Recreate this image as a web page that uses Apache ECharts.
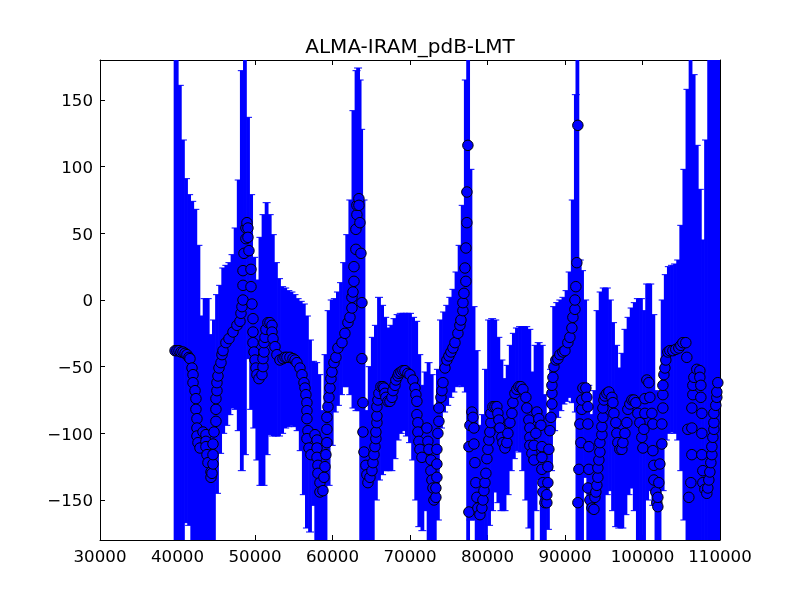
<!DOCTYPE html>
<html>
<head>
<meta charset="utf-8">
<title>ALMA-IRAM_pdB-LMT</title>
<script src="https://cdn.jsdelivr.net/npm/echarts@6/dist/echarts.min.js"></script>
<style>
html, body { margin: 0; padding: 0; background: #fff; }
#chart { width: 800px; height: 600px; }
</style>
</head>
<body>
<div id="chart"></div>
<script>
var chartTitle = 'ALMA-IRAM_pdB-LMT';
var yTicks = [-150, -100, -50, 0, 50, 100, 150];

// error bars: frequency, top end, bottom end (ends past +-180 are cut by the axes)
var barFreq = [39750,39900,40300,40700,41100,41500,41900,42300,42700,43100,43500,43900,44300,44700,45100,45500,45900,46300,46700,47100,47500,47900,48300,48700,49100,49500,49900,50300,50700,51100,51500,51900,52300,52700,53100,53500,53900,54300,54700,55100,55500,55900,56300,56700,57100,57500,57900,58300,58700,59100,59500,59900,60300,60700,61100,61500,61900,62300,62700,63100,63300,63500,63700,64000,64400,64800,65200,65600,66000,66400,66800,67200,67600,68000,68400,68800,69200,69600,70000,70400,70800,71200,71600,72000,72400,72800,73200,73600,74000,74400,74800,75200,75600,76000,76400,76800,77200,77500,77800,78200,78600,79000,79400,79800,80200,80600,81000,81400,81800,82200,82600,83000,83400,83800,84200,84600,85000,85400,85800,86200,86600,87000,87400,87800,88200,88600,89000,89400,89800,90200,90600,91000,91400,91600,91900,92200,92600,93000,93400,93800,94200,94600,95000,95400,95800,96200,96600,97000,97400,97800,98200,98600,99000,99400,99800,100200,100600,101000,101400,101800,102200,102600,103000,103400,103800,104200,104600,105000,105400,105800,106200,106600,107000,107400,107800,108200,108600,109000,109400,109800];
var barHigh = [250,250,161,120,91,79,74,68,41,-12,1,1,-26,-15,4,11,24,26,28,34,54,90,172,250,137,79,32,15,47,64,73,64,49,28,16,10,9,7,6,4,1,-1,-3,-12,-30,-46,-47,-56,-83,-41,-8,0,1,6,13,28,49,75,142,172,174,165,128,75,-83,-50,-28,-19,2,-4,-13,-21,-19,-14,-11,-10,-10,-10,-10,-13,-16,-41,-64,-54,-47,-56,-79,-52,-15,-9,-4,2,8,21,41,71,165,250,98,-5,-38,-94,-86,-52,-15,-14,-15,-28,-45,-59,-49,-34,-25,-21,-20,-20,-20,-22,-54,-34,-32,-34,-71,-90,-52,-5,-2,0,2,7,21,75,154,250,30,22,0,-64,-86,-68,-8,6,9,9,0,-17,-34,-51,-40,-22,-13,-6,-2,1,1,-8,12,12,-11,-68,-71,0,19,25,26,27,30,56,98,158,250,169,116,83,45,120,250,250,250,250];
var barLow = [-250,-250,-250,-190,-167,-169,-200,-220,-230,-230,-230,-230,-220,-200,-145,-115,-100,-94,-86,-81,-82,-98,-128,-116,-44,-82,-96,-120,-139,-139,-116,-101,-102,-102,-102,-100,-96,-95,-94,-95,-98,-113,-146,-171,-174,-154,-200,-230,-230,-190,-139,-109,-84,-79,-71,-65,-65,-71,-81,-83,-4,-83,-230,-230,-230,-230,-220,-150,-135,-131,-128,-128,-128,-119,-105,-100,-98,-102,-107,-120,-150,-170,-173,-158,-220,-230,-230,-165,-96,-84,-79,-73,-69,-65,-64,-65,-69,-250,-165,-165,-220,-230,-230,-230,-169,-158,-144,-152,-158,-158,-146,-128,-119,-113,-114,-128,-150,-171,-230,-158,-135,-200,-230,-172,-128,-98,-88,-83,-78,-76,-73,-77,-84,-250,-230,-230,-133,-230,-230,-230,-230,-230,-230,-146,-143,-158,-170,-171,-171,-161,-146,-141,-158,-220,-220,-200,-150,-143,-154,-230,-230,-143,-105,-100,-99,-100,-105,-128,-165,-230,-250,-250,-250,-250,-250,-250,-250,-250,-250,-250];

// measured points
var pointFreq = [39680,39930,40190,40450,40710,40970,41220,41480,41610,41870,42000,42000,42260,42380,42380,42510,42510,42510,42640,42900,43290,43670,43670,43670,43800,43930,44320,44320,44450,44580,44580,44580,44710,44960,44960,44960,45090,45090,45220,45350,45610,45740,45870,46250,46640,47160,47670,48060,48190,48320,48450,48450,48450,48580,48830,48830,48960,49090,49090,49220,49480,49480,49610,49740,49740,49740,49870,50000,50120,50250,50510,50900,51030,51030,51160,51160,51290,51410,51670,51930,52190,52190,52320,52580,52830,53220,53610,53870,54120,54510,54900,55160,55410,55800,56060,56320,56450,56570,56700,56700,56700,56830,56700,56960,57220,57740,58000,58000,58000,58120,58120,58380,58380,58770,58900,59030,59150,59280,59280,59280,59410,59540,59670,59800,59930,60190,60440,60700,61220,61600,61990,62250,62510,62510,62640,62770,62770,63020,63020,63150,63150,63410,63410,63540,63670,63800,63800,63930,63930,64060,64310,64440,64570,64830,65090,65220,65350,65480,65600,65600,65730,65730,65730,65860,65990,66250,66510,66640,66770,66890,67150,67410,67670,67800,68060,68180,68440,68570,68830,69090,69350,69730,69990,70380,70640,70760,70890,70890,71020,71020,71150,71280,71540,72180,72310,72440,72700,72700,72830,72960,73090,73340,73340,73470,73470,73470,73600,73730,73730,73990,74120,74250,74510,74760,75020,75280,75540,75800,76180,76440,76570,76830,76830,76960,77210,77090,77210,77340,77340,77470,77600,77600,77730,77990,78120,78250,78250,78380,78500,78630,78760,79020,79280,79410,79540,79670,79790,79920,80050,80180,80310,80440,80440,80700,80960,81210,81340,81470,81600,81860,81990,82250,82500,82630,82890,83150,83280,83540,83790,84050,84310,84570,84950,85080,85340,85470,85470,85470,85730,85990,86370,86630,86890,86240,85990,87020,87020,87020,87150,87150,87410,87660,87660,87790,87790,87920,88050,88180,88310,88310,88310,88440,88570,88820,89080,89340,89730,89990,90370,90630,90890,91020,91280,91280,91400,91530,91660,91660,91790,91920,92050,92180,92180,92310,92690,92820,92950,92950,93080,93080,92950,93210,93470,93730,93860,93980,94110,94240,94240,94370,94500,94500,94760,94760,94890,94890,95020,95150,95400,95660,96050,96180,96310,96560,96690,96820,97080,97340,97470,97730,97980,98110,98370,98630,98890,99140,99400,99660,99920,100050,100180,100310,100310,100560,100820,100950,101210,101340,101340,101470,101470,101720,101850,101980,101980,102110,102240,102500,102500,102630,102630,102630,102760,102890,103010,103270,103530,103920,104300,104690,104950,105210,105590,105720,105850,105980,106240,106370,106370,106370,106500,106500,106630,107010,107400,107400,107530,107530,107660,107660,107660,107790,107790,108050,108300,108430,108560,108690,108820,108950,108950,109080,109210,109210,109210,109460,109590,109590,109720];
var pointPhase = [-38,-38,-38,-39,-39,-40,-41,-43,-44,-51,-56,-62,-68,-74,-82,-89,-96,-102,-107,-111,-99,-101,-106,-110,-116,-122,-129,-133,-130,-123,-116,-108,-99,-91,-82,-74,-68,-62,-57,-51,-47,-41,-38,-32,-29,-24,-19,-16,-10,-5,0,11,22,35,46,54,58,54,47,37,23,10,-3,-14,-24,-32,-39,-45,-51,-56,-59,-56,-50,-44,-39,-32,-28,-22,-17,-17,-19,-24,-29,-35,-41,-45,-44,-43,-43,-43,-44,-45,-47,-51,-56,-62,-66,-71,-77,-83,-89,-98,-104,-111,-116,-101,-105,-111,-118,-124,-130,-137,-144,-143,-133,-125,-116,-107,-97,-88,-80,-73,-66,-59,-54,-47,-43,-36,-32,-25,-17,-13,-6,2,6,14,25,38,53,64,71,76,71,58,35,-2,-44,-77,-99,-114,-124,-131,-137,-133,-128,-122,-116,-110,-104,-99,-92,-87,-80,-75,-70,-65,-65,-66,-70,-73,-76,-76,-73,-68,-64,-60,-57,-55,-54,-53,-53,-55,-56,-60,-66,-71,-76,-86,-92,-99,-106,-112,-118,-96,-106,-112,-120,-128,-135,-141,-150,-148,-141,-133,-123,-112,-100,-91,-81,-73,-68,-62,-51,-45,-42,-39,-36,-32,-25,-19,-15,-8,-2,5,14,24,39,58,81,116,-159,-110,-94,-84,-88,-96,-108,-122,-137,-148,-156,-161,-156,-150,-143,-137,-130,-119,-112,-105,-99,-92,-85,-80,-80,-80,-85,-90,-96,-103,-107,-111,-107,-100,-92,-85,-77,-70,-67,-65,-65,-67,-73,-81,-90,-96,-103,-109,-115,-120,-84,-89,-94,-100,-109,-110,-118,-127,-137,-144,-152,-152,-146,-137,-125,-112,-98,-88,-78,-70,-64,-58,-50,-45,-44,-41,-39,-38,-32,-28,-21,-13,-7,0,10,28,131,-152,-127,-93,-107,-82,-75,-66,-66,-73,-80,-93,-110,-127,-141,-150,-156,-157,-148,-144,-139,-133,-126,-120,-114,-107,-101,-95,-88,-81,-75,-72,-70,-69,-73,-77,-85,-92,-100,-107,-112,-112,-107,-100,-92,-82,-78,-75,-75,-77,-85,-92,-103,-111,-97,-85,-74,-60,-62,-73,-85,-93,-113,-124,-135,-144,-152,-155,-148,-137,-123,-108,-93,-81,-71,-64,-56,-51,-45,-39,-38,-38,-37,-36,-34,-32,-32,-43,-97,-148,-137,-116,-96,-81,-71,-64,-58,-52,-53,-58,-64,-73,-85,-100,-116,-128,-137,-142,-145,-141,-135,-129,-122,-116,-110,-103,-97,-92,-85,-79,-73,-69,-62];

// rich text so the labels can sit a little lower on their ticks
function minusLabel(value) {
    return '{tick|' + String(value).replace('-', '\u2212') + '}';
}

var barData = [];
for (var i = 0; i < barFreq.length; i++) {
    barData.push([barFreq[i], barLow[i], barHigh[i]]);
}
var pointData = [];
for (var j = 0; j < pointFreq.length; j++) {
    pointData.push([pointFreq[j], pointPhase[j]]);
}

// one bar with its two caps
function renderBar(params, api) {
    var top = api.coord([api.value(0), api.value(2)]);
    var bottom = api.coord([api.value(0), api.value(1)]);
    var barStyle = { stroke: '#0000ff', lineWidth: 3.8 };
    var capStyle = { stroke: '#0000ff', lineWidth: 1 };
    return {
        type: 'group',
        children: [
            { type: 'line', shape: { x1: top[0], y1: top[1], x2: bottom[0], y2: bottom[1] }, style: barStyle },
            { type: 'line', shape: { x1: top[0] - 4, y1: top[1], x2: top[0] + 4, y2: top[1] }, style: capStyle },
            { type: 'line', shape: { x1: bottom[0] - 4, y1: bottom[1], x2: bottom[0] + 4, y2: bottom[1] }, style: capStyle }
        ]
    };
}

var axisFont = { fontFamily: 'DejaVu Sans', fontSize: 16.67, color: '#000' };
var frameLine = { show: true, onZero: false, lineStyle: { color: '#000', width: 1 } };
var innerTick = { show: true, inside: true, length: 5, lineStyle: { color: '#000', width: 1 } };

var myChart = echarts.init(document.getElementById('chart'), null, { renderer: 'canvas' });
myChart.setOption({
    animation: false,
    backgroundColor: '#fff',
    title: {
        text: chartTitle,
        left: 405,
        top: 33,
        textAlign: 'center',
        textStyle: { fontFamily: 'DejaVu Sans', fontSize: 20, fontWeight: 'normal', color: '#000' }
    },
    grid: { left: 100, right: 80, top: 60, bottom: 60, containLabel: false },
    xAxis: [
        { type: 'value', position: 'bottom', min: 30000, max: 110000, interval: 10000, splitLine: { show: false }, axisLine: frameLine, axisTick: innerTick,
          axisLabel: Object.assign({ margin: 9, hideOverlap: false, formatter: function (value) { return String(value); } }, axisFont) },
        { type: 'value', position: 'top', min: 30000, max: 110000, interval: 10000, splitLine: { show: false }, axisLine: frameLine, axisTick: innerTick, axisLabel: { show: false } }
    ],
    yAxis: [
        { type: 'value', position: 'left', min: -180, max: 180, splitLine: { show: false }, axisLine: frameLine,
          axisTick: Object.assign({ customValues: yTicks }, innerTick),
          axisLabel: Object.assign({ customValues: yTicks, margin: 7, formatter: minusLabel,
              rich: { tick: { fontFamily: 'DejaVu Sans', fontSize: 16.67, color: '#000', padding: [4, 0, 0, 0] } } }, axisFont) },
        { type: 'value', position: 'right', min: -180, max: 180, splitLine: { show: false }, axisLine: frameLine,
          axisTick: Object.assign({ customValues: yTicks }, innerTick),
          axisLabel: { show: false, customValues: yTicks } }
    ],
    series: [
        { type: 'custom', name: 'errorbars', renderItem: renderBar, data: barData, clip: true, silent: true,
          encode: { x: 0, y: [1, 2] }, z: 2 },
        { type: 'scatter', name: 'phase', data: pointData, symbol: 'circle', symbolSize: 10.5, clip: true, silent: true,
          itemStyle: { color: '#0000ff', borderColor: '#000', borderWidth: 1, opacity: 1 }, z: 3 }
    ]
});
</script>
</body>
</html>
